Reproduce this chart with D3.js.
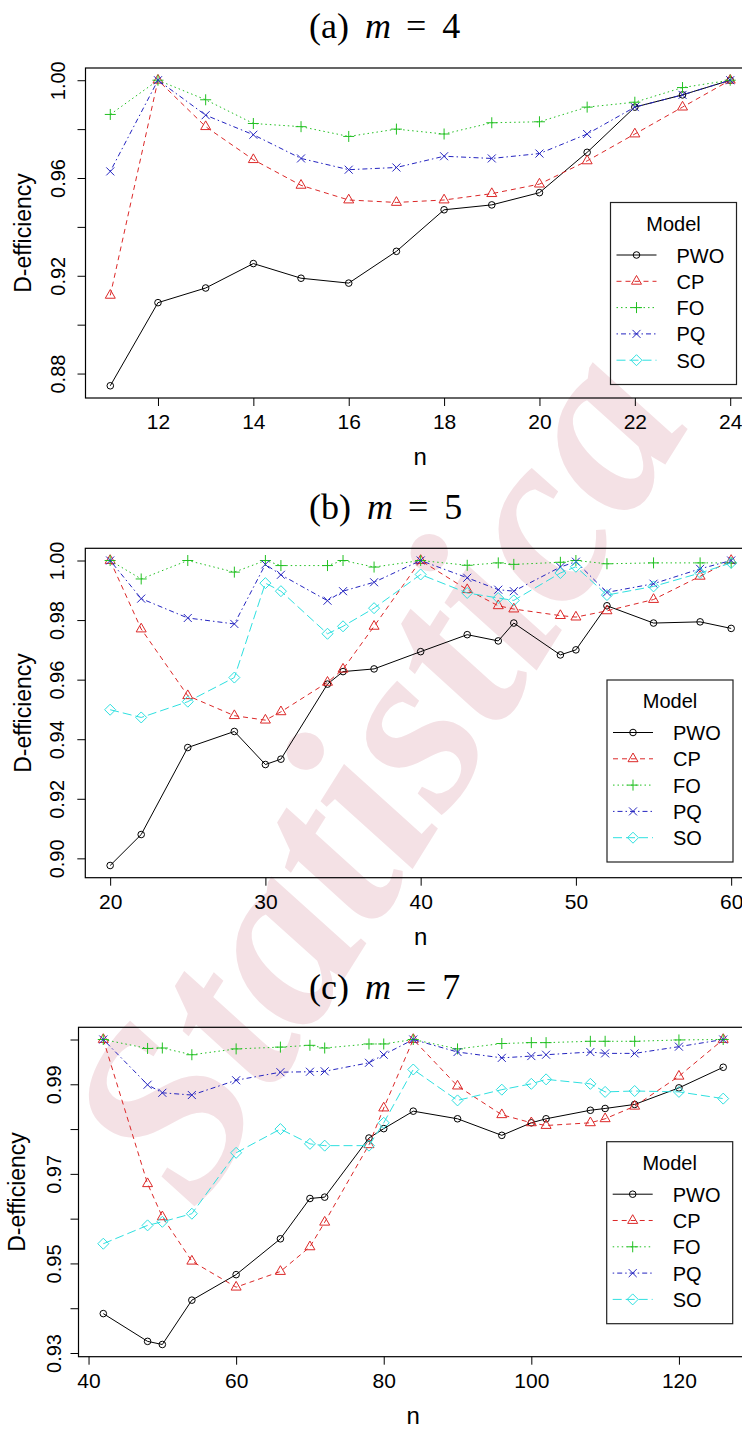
<!DOCTYPE html>
<html>
<head>
<meta charset="utf-8">
<script src="https://cdn.jsdelivr.net/npm/d3@7"></script>
<style>
 body { margin: 0; background: #fff; }
 svg { display: block; }
 text { font-family: "Liberation Sans", Arial, sans-serif; }
</style>
</head>
<body>
<svg id="graph"></svg>
<script>
// model names in legend order
const models = ["PWO", "CP", "FO", "PQ", "SO"];

// (a) m = 4
const nA = [11, 12, 13, 14, 15, 16, 17, 18, 19, 20, 21, 22, 23, 24];
const pwoA = [0.875, 0.909, 0.915, 0.925, 0.919, 0.917, 0.930, 0.947, 0.949, 0.954, 0.9705, 0.989, 0.994, 1.000];
const cpA = [0.912, 1.000, 0.981, 0.9675, 0.957, 0.951, 0.950, 0.951, 0.9536, 0.9575, 0.967, 0.978, 0.989, 1.000];
const foA = [0.986, 1.000, 0.992, 0.9823, 0.981, 0.977, 0.980, 0.978, 0.9826, 0.983, 0.989, 0.991, 0.997, 1.000];
const pqA = [0.9627, 1.000, 0.9857, 0.9777, 0.968, 0.9634, 0.9643, 0.9689, 0.968, 0.970, 0.978, 0.989, 0.994, 1.000];
const yTicksA = [0.88, 0.90, 0.92, 0.94, 0.96, 0.98, 1.00];
const yLabelsA = [0.88, 0.92, 0.96, 1.00];
const xTicksA = [12, 14, 16, 18, 20, 22, 24];

// (b) m = 5
const nB = [20, 22, 25, 28, 30, 31, 34, 35, 37, 40, 43, 45, 46, 49, 50, 52, 55, 58, 60];
const pwoB = [0.8976, 0.908, 0.9372, 0.9426, 0.9315, 0.9333, 0.9585, 0.9627, 0.9636, 0.9694, 0.9751, 0.9730, 0.9790, 0.9683, 0.9700, 0.9848, 0.9790, 0.9794, 0.9772];
const cpB = [1.000, 0.977, 0.9546, 0.9479, 0.9464, 0.9492, 0.9591, 0.9635, 0.9779, 1.000, 0.9902, 0.9848, 0.9837, 0.9815, 0.9810, 0.9831, 0.9869, 0.9947, 1.000];
const foB = [1.000, 0.9938, 1.000, 0.9961, 1.000, 0.9983, 0.9983, 1.000, 0.9978, 1.000, 0.9984, 0.9992, 0.9987, 0.9994, 1.000, 0.9989, 0.9992, 0.9992, 0.9992];
const pqB = [1.000, 0.9872, 0.9807, 0.9787, 0.9987, 0.9952, 0.9865, 0.9897, 0.9927, 1.000, 0.9942, 0.9902, 0.9897, 0.9978, 0.9996, 0.9893, 0.9922, 0.9972, 1.000];
const soB = [0.9499, 0.9473, 0.9526, 0.9607, 0.9924, 0.9897, 0.9754, 0.9779, 0.9840, 0.9953, 0.9891, 0.9874, 0.9866, 0.9958, 0.9979, 0.9884, 0.9913, 0.9958, 0.9992];
const yTicksB = [0.90, 0.92, 0.94, 0.96, 0.98, 1.00];
const yLabelsB = [0.90, 0.92, 0.94, 0.96, 0.98, 1.00];
const xTicksB = [20, 30, 40, 50, 60];

// (c) m = 7
const nC = [42, 48, 50, 54, 60, 66, 70, 72, 78, 80, 84, 90, 96, 100, 102, 108, 110, 114, 120, 126];
const pwoC = [0.9388, 0.9326, 0.9319, 0.9418, 0.9475, 0.9555, 0.9645, 0.9648, 0.9780, 0.9801, 0.9840, 0.9823, 0.9786, 0.9814, 0.9823, 0.9842, 0.9846, 0.9855, 0.9892, 0.9938];
const cpC = [1.000, 0.9678, 0.9604, 0.9505, 0.9447, 0.9482, 0.9537, 0.9592, 0.9765, 0.9847, 1.000, 0.9896, 0.9832, 0.9814, 0.9808, 0.9814, 0.9823, 0.9851, 0.9918, 1.000];
const foC = [1.000, 0.9980, 0.9981, 0.9966, 0.9979, 0.9983, 0.9987, 0.9981, 0.9990, 0.9990, 1.000, 0.9979, 0.9991, 0.9993, 0.9993, 0.9996, 0.9996, 0.9996, 0.9999, 1.000];
const pqC = [1.000, 0.9899, 0.9881, 0.9876, 0.9909, 0.9927, 0.9928, 0.9929, 0.9948, 0.9966, 1.000, 0.9972, 0.9959, 0.9963, 0.9966, 0.9972, 0.9969, 0.9969, 0.9984, 1.000];
const soC = [0.9544, 0.9585, 0.9593, 0.9611, 0.9747, 0.9800, 0.9767, 0.9763, 0.9763, 0.9814, 0.9933, 0.9864, 0.9888, 0.9901, 0.9911, 0.9901, 0.9883, 0.9885, 0.9883, 0.9868];
const yTicksC = [0.93, 0.94, 0.95, 0.96, 0.97, 0.98, 0.99, 1.00];
const yLabelsC = [0.93, 0.95, 0.97, 0.99];
const xTicksC = [40, 60, 80, 100, 120];

// looks of each model (R style: colour, lty, pch)
const colors = { PWO: "#000000", CP: "#dc2828", FO: "#22c022", PQ: "#2424c0", SO: "#2ee0e0" };
const dashes = { PWO: null, CP: "5,4", FO: "1.5,3", PQ: "1.5,3,5,3", SO: "9,4" };
const shapes = {
 PWO: "M3.3,0A3.3,3.3 0 1,1 -3.3,0A3.3,3.3 0 1,1 3.3,0Z",
 CP: "M0,-5.8L5,2.9L-5,2.9Z",
 FO: "M-5.5,0H5.5M0,-5.5V5.5",
 PQ: "M-4,-4L4,4M-4,4L4,-4",
 SO: "M0,-5.5L5.5,0L0,5.5L-5.5,0Z"
};

let width = 742;
let height = 1429;

let svg = d3.select("#graph")
 .attr("width", width)
 .attr("height", height);

// pale watermark behind everything
svg.append("text")
 .attr("transform", "translate(372,770) rotate(-58)")
 .attr("text-anchor", "middle")
 .attr("dy", "0.35em")
 .style("font-family", "'Liberation Serif', serif")
 .style("font-style", "italic")
 .style("font-weight", "bold")
 .style("font-size", "248px")
 .style("fill", "#f4e1e5")
 .text("Statistica");

function drawPanel(p) {
 let g = svg.append("g");

 // R style limits: data range plus 4% on each side
 let xs = p.n;
 let allY = [].concat(...models.filter(m => p.series[m]).map(m => p.series[m]));
 let xPad = (d3.max(xs) - d3.min(xs)) * 0.04;
 let yPad = (d3.max(allY) - d3.min(allY)) * 0.04;

 let scaleX = d3.scaleLinear()
 .domain([d3.min(xs) - xPad, d3.max(xs) + xPad])
 .range([p.left, p.right]);
 let scaleY = d3.scaleLinear()
 .domain([d3.min(allY) - yPad, d3.max(allY) + yPad])
 .range([p.bottom, p.top]);

 // title like "(a) m = 4"
 let t = g.append("text")
 .attr("x", 309)
 .attr("y", p.titleY)
 .style("font-family", "'Liberation Serif', serif")
 .style("font-size", "36px");
 t.append("tspan").text(p.tag);
 t.append("tspan").attr("dx", 16).style("font-style", "italic").text("m");
 t.append("tspan").attr("dx", 15).text("=");
 t.append("tspan").attr("dx", 16).text(p.mValue);

 // x axis
 let axisX = d3.axisBottom(scaleX)
 .tickValues(p.xTicks)
 .tickSize(8)
 .tickFormat(d3.format("d"));
 let gx = g.append("g")
 .attr("transform", `translate(0, ${p.bottom})`)
 .call(axisX);
 gx.select(".domain").remove();
 gx.selectAll("text")
 .attr("y", 31)
 .attr("dy", 0)
 .style("font-size", "21px")
 .style("fill", "#000");

 // y axis, labels turned like R
 let axisY = d3.axisLeft(scaleY)
 .tickValues(p.yTicks)
 .tickSize(8)
 .tickFormat(d => p.yLabels.some(v => Math.abs(v - d) < 1e-9) ? d3.format(".2f")(d) : "");
 let gy = g.append("g")
 .attr("transform", `translate(${p.left}, 0)`)
 .call(axisY);
 gy.select(".domain").remove();
 gy.selectAll("text")
 .attr("x", 0)
 .attr("dy", 0)
 .attr("text-anchor", "middle")
 .attr("transform", `translate(${-p.tickGap}, 0) rotate(-90)`)
 .style("font-size", "20px")
 .style("fill", "#000");
 g.selectAll(".tick line").style("stroke", "#000");

 // plot box (right side runs past the picture edge, as in the source)
 g.append("rect")
 .attr("x", p.left)
 .attr("y", p.top)
 .attr("width", p.right - p.left)
 .attr("height", p.bottom - p.top)
 .style("fill", "none")
 .style("stroke", "#000")
 .style("stroke-width", 1.2);

 // axis titles
 g.append("text")
 .attr("x", (p.left + p.right) / 2)
 .attr("y", p.bottom + 67)
 .attr("text-anchor", "middle")
 .style("font-size", "24px")
 .text("n");
 g.append("text")
 .attr("transform", `translate(${p.labelX}, ${(p.top + p.bottom) / 2}) rotate(-90)`)
 .attr("text-anchor", "middle")
 .style("font-size", "23px")
 .text("D-efficiency");

 // lines and points
 let line = d3.line()
 .x(d => scaleX(d[0]))
 .y(d => scaleY(d[1]));

 models.forEach(function(m) {
 if (!p.series[m]) return;
 let pts = p.n.map((x, i) => [x, p.series[m][i]]);
 g.append("path")
 .datum(pts)
 .attr("d", line)
 .style("fill", "none")
 .style("stroke", colors[m])
 .style("stroke-width", 1)
 .style("stroke-dasharray", dashes[m]);
 g.selectAll(".pt-" + m)
 .data(pts)
 .enter()
 .append("path")
 .attr("d", shapes[m])
 .attr("transform", d => `translate(${scaleX(d[0])}, ${scaleY(d[1])})`)
 .style("fill", "none")
 .style("stroke", colors[m])
 .style("stroke-width", 1);
 });

 // legend
 let lg = g.append("g").attr("transform", `translate(${p.legX}, ${p.legY})`);
 lg.append("rect")
 .attr("width", 126)
 .attr("height", 182)
 .style("fill", "none")
 .style("stroke", "#222")
 .style("stroke-width", 1.2);
 lg.append("text")
 .attr("x", 63)
 .attr("y", 28)
 .attr("text-anchor", "middle")
 .style("font-size", "20px")
 .text("Model");
 models.forEach(function(m, i) {
 let y = 52.5 + i * 26.3;
 lg.append("line")
 .attr("x1", 6).attr("x2", 46)
 .attr("y1", y).attr("y2", y)
 .style("stroke", colors[m])
 .style("stroke-width", 1)
 .style("stroke-dasharray", dashes[m]);
 lg.append("path")
 .attr("d", shapes[m])
 .attr("transform", `translate(26, ${y})`)
 .style("fill", "none")
 .style("stroke", colors[m]);
 lg.append("text")
 .attr("x", 66)
 .attr("y", y + 7.5)
 .style("font-size", "20px")
 .text(m);
 });
}

drawPanel({
 tag: "(a)", mValue: "4", titleY: 38,
 left: 85.5, right: 755, top: 68, bottom: 398, tickGap: 21, labelX: 31,
 n: nA, series: { PWO: pwoA, CP: cpA, FO: foA, PQ: pqA },
 xTicks: xTicksA, yTicks: yTicksA, yLabels: yLabelsA,
 legX: 610.5, legY: 202.5
});

drawPanel({
 tag: "(b)", mValue: "5", titleY: 519,
 left: 85.3, right: 756, top: 548.3, bottom: 877.7, tickGap: 21, labelX: 31,
 n: nB, series: { PWO: pwoB, CP: cpB, FO: foB, PQ: pqB, SO: soB },
 xTicks: xTicksB, yTicks: yTicksB, yLabels: yLabelsB,
 legX: 607, legY: 680
});

drawPanel({
 tag: "(c)", mValue: "7", titleY: 999,
 left: 78.5, right: 748, top: 1027.3, bottom: 1356.7, tickGap: 18, labelX: 25,
 n: nC, series: { PWO: pwoC, CP: cpC, FO: foC, PQ: pqC, SO: soC },
 xTicks: xTicksC, yTicks: yTicksC, yLabels: yLabelsC,
 legX: 606.7, legY: 1141.7
});
</script>
</body>
</html>
